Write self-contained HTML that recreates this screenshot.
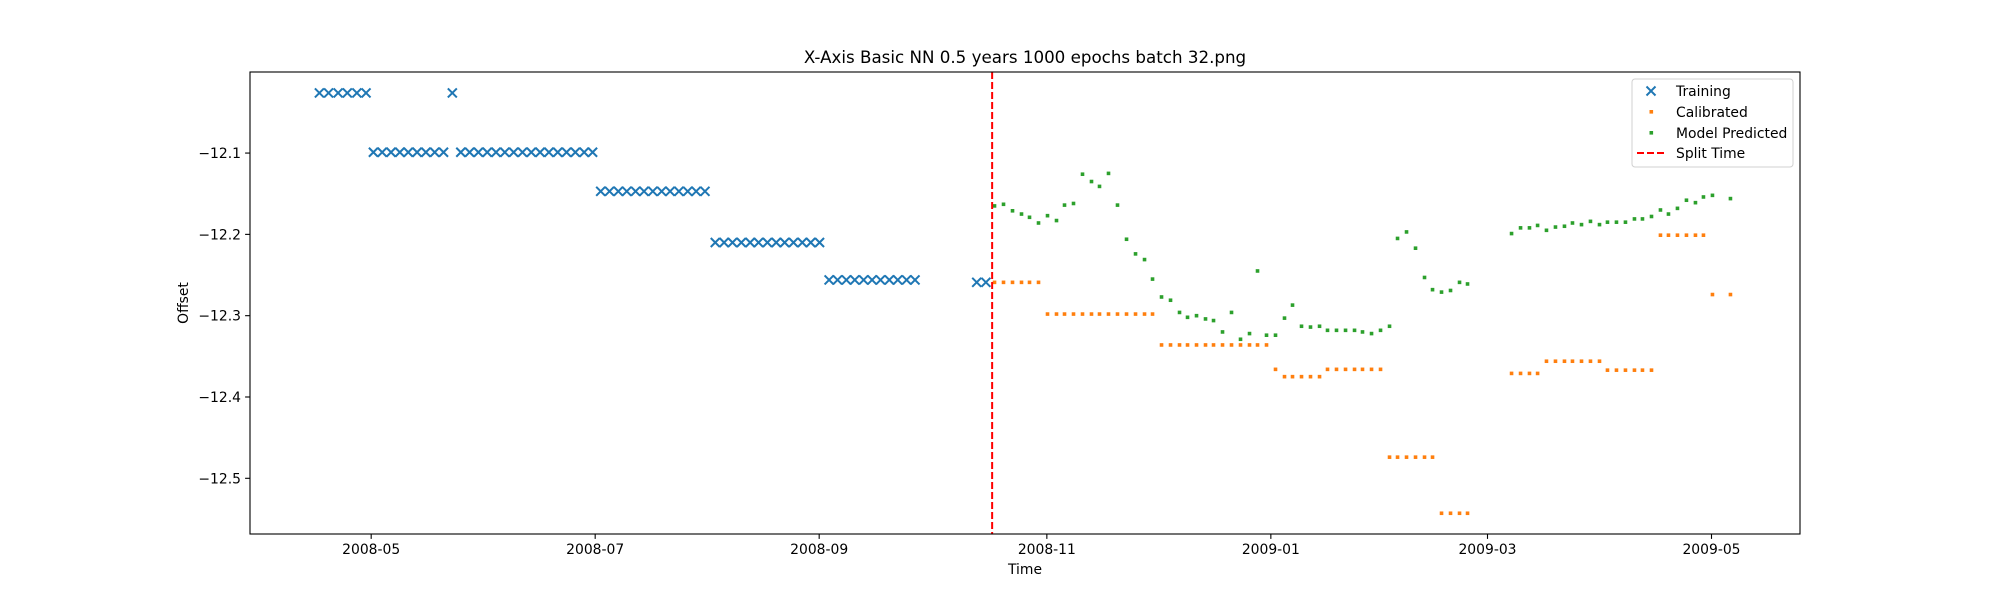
<!DOCTYPE html>
<html><head><meta charset="utf-8"><style>
html,body{margin:0;padding:0;background:#fff;}
svg{display:block;font-family:"DejaVu Sans","Liberation Sans",sans-serif;}
</style></head><body>
<svg id="chart" width="2000" height="600" viewBox="0 0 2000 600">
<rect x="0" y="0" width="2000" height="600" fill="#fff"/>
<text x="1025" y="63" text-anchor="middle" font-size="16.7">X-Axis Basic NN 0.5 years 1000 epochs batch 32.png</text>
<g id="marks"></g>
<g id="axes"></g>
<g id="legend">
<rect x="1632" y="79" width="161" height="88" rx="3" fill="#fff" fill-opacity="0.8" stroke="#d0d0d0"/>
<g>
<path d="M1646.5,86.5 L1655.5,95.5 M1655.5,86.5 L1646.5,95.5" stroke="#1f77b4" stroke-width="2"/>
<text x="1676" y="96" font-size="13.9">Training</text></g>
<g>
<rect x="1649.5" y="110" width="3.6" height="3.6" fill="#ff7f0e"/>
<text x="1676" y="117" font-size="13.9">Calibrated</text></g>
<g>
<rect x="1649.5" y="131" width="3.6" height="3.6" fill="#2ca02c"/>
<text x="1676" y="138" font-size="13.9">Model Predicted</text></g>
<g>
<path d="M1637,153 L1665,153" stroke="#ff0000" stroke-width="2" stroke-dasharray="7,3"/>
<text x="1676" y="158" font-size="13.9">Split Time</text></g>
</g>
</svg>
<script>
// x values: days since 2008-11-01
const trainDays = [-198.1,-195.6,-193.0,-190.5,-187.9,-185.4,-161.9,
 -183.4,-181.0,-178.6,-176.2,-173.9,-171.5,-169.1,-166.7,-164.3,
 -159.6,-157.2,-154.8,-152.4,-150.0,-147.6,-145.2,-142.8,-140.4,-138.0,-135.6,-133.2,-130.8,-128.4,-126.0,-123.7,
 -121.5,-119.1,-116.7,-114.4,-112.0,-109.7,-107.3,-104.9,-102.6,-100.2,-97.8,-95.5,-93.1,
 -90.3,-87.9,-85.6,-83.2,-80.8,-78.5,-76.1,-73.7,-71.4,-69.0,-66.6,-64.3,-61.9,
 -59.3,-57.0,-54.6,-52.3,-49.9,-47.6,-45.3,-42.9,-40.6,-38.2,-35.9,
 -19.1,-16.6];
const trainVals = [-12.026,-12.026,-12.026,-12.026,-12.026,-12.026,-12.026,
 -12.099,-12.099,-12.099,-12.099,-12.099,-12.099,-12.099,-12.099,-12.099,
 -12.099,-12.099,-12.099,-12.099,-12.099,-12.099,-12.099,-12.099,-12.099,-12.099,-12.099,-12.099,-12.099,-12.099,-12.099,-12.099,
 -12.147,-12.147,-12.147,-12.147,-12.147,-12.147,-12.147,-12.147,-12.147,-12.147,-12.147,-12.147,-12.147,
 -12.210,-12.210,-12.210,-12.210,-12.210,-12.210,-12.210,-12.210,-12.210,-12.210,-12.210,-12.210,-12.210,
 -12.256,-12.256,-12.256,-12.256,-12.256,-12.256,-12.256,-12.256,-12.256,-12.256,-12.256,
 -12.259,-12.259];
const predDays = [-14.25,-11.8,-9.35,-6.9,-4.72,-2.27,0.18,2.63,4.81,7.26,9.71,12.16,14.34,16.79,19.24,21.7,24.15,26.6,28.78,31.23,
 33.68,36.13,38.31,40.76,43.21,45.39,47.84,50.29,52.74,55.19,57.37,59.82,62.27,64.72,66.9,69.35,71.8,74.26,76.43,78.88,
 81.34,83.79,85.96,88.42,90.87,93.32,95.5,97.95,100.4,102.85,105.03,107.48,109.93,112.38,114.56,
 126.55,129.0,131.43,133.64,136.06,138.51,140.96,143.14,145.6,148.04,150.5,152.67,155.12,157.57,160.02,162.2,164.66,167.1,169.28,171.73,174.18,176.63,178.81,181.26,186.16];
const predVals = [-12.165,-12.163,-12.171,-12.175,-12.179,-12.186,-12.177,-12.183,-12.164,-12.162,-12.126,-12.135,-12.141,-12.125,-12.164,-12.206,-12.224,-12.231,-12.255,-12.277,
 -12.281,-12.296,-12.302,-12.300,-12.304,-12.306,-12.320,-12.296,-12.329,-12.322,-12.245,-12.324,-12.324,-12.303,-12.287,-12.313,-12.314,-12.313,-12.318,-12.318,
 -12.318,-12.318,-12.320,-12.322,-12.318,-12.313,-12.205,-12.197,-12.217,-12.253,-12.268,-12.271,-12.269,-12.259,-12.261,
 -12.199,-12.192,-12.192,-12.189,-12.195,-12.191,-12.190,-12.186,-12.188,-12.184,-12.188,-12.185,-12.185,-12.185,-12.181,-12.181,-12.178,-12.170,-12.175,-12.168,-12.158,-12.161,-12.154,-12.152,-12.156];
const calDays = [-14.25,-11.8,-9.35,-6.9,-4.72,-2.27,
 0.18,2.63,4.81,7.26,9.71,12.16,14.34,16.79,19.24,21.7,24.15,26.6,28.78,
 31.23,33.68,36.13,38.31,40.76,43.21,45.39,47.84,50.29,52.74,55.19,57.37,59.82,
 62.27,64.72,66.9,69.35,71.8,74.26,76.43,78.88,81.34,83.79,85.96,88.42,90.87,
 93.32,95.5,97.95,100.4,102.85,105.03,107.48,109.93,112.38,114.56,
 126.55,129.0,131.43,133.64,136.06,138.51,140.96,143.14,145.6,148.04,150.5,
 152.67,155.12,157.57,160.02,162.2,164.66,167.1,169.28,171.73,174.18,176.63,178.81,181.26,186.16];
const calVals = [-12.259,-12.259,-12.259,-12.259,-12.259,-12.259,
 -12.298,-12.298,-12.298,-12.298,-12.298,-12.298,-12.298,-12.298,-12.298,-12.298,-12.298,-12.298,-12.298,
 -12.336,-12.336,-12.336,-12.336,-12.336,-12.336,-12.336,-12.336,-12.336,-12.336,-12.336,-12.336,-12.336,
 -12.366,-12.375,-12.375,-12.375,-12.375,-12.375,-12.366,-12.366,-12.366,-12.366,-12.366,-12.366,-12.366,
 -12.474,-12.474,-12.474,-12.474,-12.474,-12.474,-12.543,-12.543,-12.543,-12.543,
 -12.371,-12.371,-12.371,-12.371,-12.356,-12.356,-12.356,-12.356,-12.356,-12.356,-12.356,
 -12.367,-12.367,-12.367,-12.367,-12.367,-12.367,-12.201,-12.201,-12.201,-12.201,-12.201,-12.201,-12.274,-12.274];
const splitDay = -14.9;
const xTickDays = [-184,-123,-62,0,61,120,181];
const xTickLabels = ["2008-05","2008-07","2008-09","2008-11","2009-01","2009-03","2009-05"];
const yTickVals = [-12.1,-12.2,-12.3,-12.4,-12.5];
const yTickLabels = ["\u221212.1","\u221212.2","\u221212.3","\u221212.4","\u221212.5"];

const L=250,R=1800,T=72,B=534;
const xMin=-217.0,xMax=205.1,yMin=-12.5685,yMax=-12.0003;
function xs(d){return L+(d-xMin)/(xMax-xMin)*(R-L);}
function ys(v){return B-(v-yMin)/(yMax-yMin)*(B-T);}
const NS="http://www.w3.org/2000/svg";
const marks=document.getElementById('marks');
const axes=document.getElementById('axes');
function mk(tag,attrs,parent){const e=document.createElementNS(NS,tag);for(const k in attrs)e.setAttribute(k,attrs[k]);parent.appendChild(e);return e;}

for(let i=0;i<trainDays.length;i++){
  const x=xs(trainDays[i]),y=ys(trainVals[i]);
  const p=mk('path',{d:`M${x-4.5},${y-4.5}L${x+4.5},${y+4.5}M${x+4.5},${y-4.5}L${x-4.5},${y+4.5}`,stroke:'#1f77b4','stroke-width':2,fill:'none'},marks);
  
  
}
for(let i=0;i<calDays.length;i++){
  const r=mk('rect',{x:xs(calDays[i])-1.8,y:ys(calVals[i])-1.8,width:3.6,height:3.6,fill:'#ff7f0e'},marks);
  
  
}
for(let i=0;i<predDays.length;i++){
  const r=mk('rect',{x:xs(predDays[i])-1.8,y:ys(predVals[i])-1.8,width:3.6,height:3.6,fill:'#2ca02c'},marks);
  
  
}
const sl=mk('line',{x1:xs(splitDay),x2:xs(splitDay),y1:T,y2:B,stroke:'#ff0000','stroke-width':2,'stroke-dasharray':'7,3'},marks);



const frame=mk('rect',{x:L,y:T,width:R-L,height:B-T,fill:'none',stroke:'#000','stroke-width':1.1},axes);


for(let i=0;i<xTickDays.length;i++){
  const x=xs(xTickDays[i]);
  mk('line',{x1:x,x2:x,y1:B,y2:B+4.9,stroke:'#000','stroke-width':1.1},axes);
  const t=mk('text',{x:x,y:B+20,'text-anchor':'middle','font-size':13.9},axes);
  t.textContent=xTickLabels[i];
  
  
}
for(let i=0;i<yTickVals.length;i++){
  const y=ys(yTickVals[i]);
  mk('line',{x1:L-4.9,x2:L,y1:y,y2:y,stroke:'#000','stroke-width':1.1},axes);
  const t=mk('text',{x:L-9,y:y+5,'text-anchor':'end','font-size':13.9},axes);
  t.textContent=yTickLabels[i];
  
  
}
const xl=mk('text',{x:(L+R)/2,y:574,'text-anchor':'middle','font-size':13.9},axes);
xl.textContent='Time';


const yl=mk('text',{x:0,y:0,'text-anchor':'middle','font-size':13.9,transform:`translate(188,${(T+B)/2}) rotate(-90)`},axes);
yl.textContent='Offset';


</script>
</body></html>
